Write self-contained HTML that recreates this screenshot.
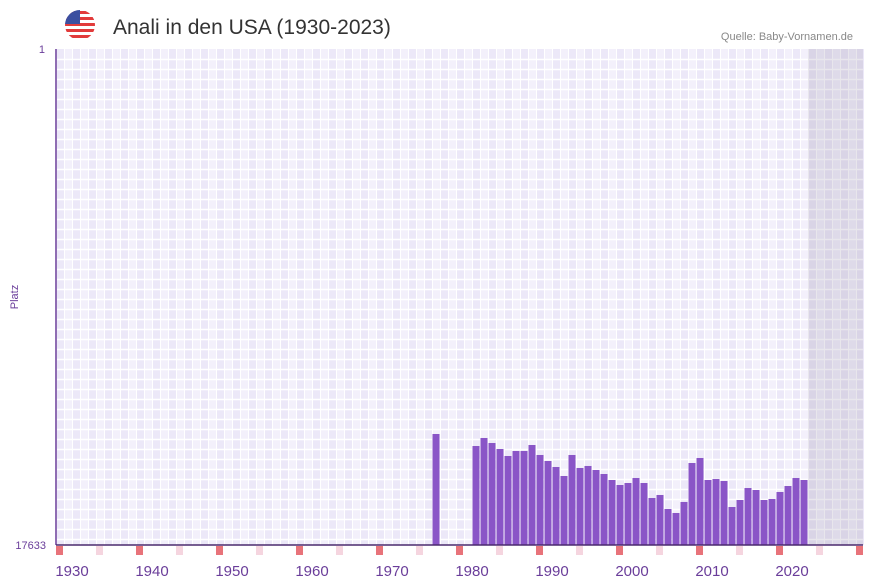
<!DOCTYPE html>
<html><head><meta charset="utf-8"><style>
body{margin:0;background:#fff;font-family:"Liberation Sans",sans-serif;}
#wrap{position:relative;width:873px;height:587px;overflow:hidden;}
</style></head><body>
<div id="wrap">
<svg id="svg" width="873" height="587" xmlns="http://www.w3.org/2000/svg">
  <defs><clipPath id="fc"><circle cx="80" cy="25" r="15"/></clipPath></defs>
  <g clip-path="url(#fc)">
    <rect x="65" y="10" width="30" height="30" fill="#fff"/>
    <rect x="65" y="11" width="30" height="3" fill="#e23b3b"/>
    <rect x="65" y="17" width="30" height="3" fill="#e23b3b"/>
    <rect x="65" y="23" width="30" height="3" fill="#e23b3b"/>
    <rect x="65" y="29" width="30" height="3" fill="#e23b3b"/>
    <rect x="65" y="35" width="30" height="3" fill="#e23b3b"/>
    <rect x="65" y="10" width="15" height="14" fill="#3b4fa0"/>
  </g>
  <text x="113" y="34" font-size="21" fill="#333">Anali in den USA (1930-2023)</text>
  <text x="853" y="40" font-size="11" fill="#888" text-anchor="end">Quelle: Baby-Vornamen.de</text>
  <g id="grid"></g>
  <g id="bars"></g>
  <g id="marks"></g>
  <g id="xt"></g>
  <line x1="56" y1="49" x2="56" y2="545" stroke="#6a3d9a" stroke-width="1.5"/>
  <line x1="56" y1="545" x2="863" y2="545" stroke="#4b2a6e" stroke-width="1.5"/>
  <text x="45" y="53" font-size="11" fill="#6a3d9a" text-anchor="end">1</text>
  <text x="46" y="549" font-size="11" fill="#6a3d9a" text-anchor="end">17633</text>
  <text x="18" y="297" font-size="11" fill="#6a3d9a" text-anchor="middle" transform="rotate(-90 18 297)">Platz</text>
</svg>
</div>
<script>
const years=[1975,1980,1981,1982,1983,1984,1985,1986,1987,1988,1989,1990,1991,1992,1993,1994,1995,1996,1997,1998,1999,2000,2001,2002,2003,2004,2005,2006,2007,2008,2009,2010,2011,2012,2013,2014,2015,2016,2017,2018,2019,2020,2021];
const ranks=[13687,14114,13829,14007,14220,14469,14291,14291,14078,14433,14647,14860,15180,14433,14895,14824,14966,15109,15322,15500,15429,15251,15429,15962,15855,16353,16495,16104,14718,14540,15322,15287,15358,16282,16033,15607,15678,16033,15997,15749,15536,15251,15322];
const xTicks=[1930,1940,1950,1960,1970,1980,1990,2000,2010,2020];
const maxRank=17633, firstYear=1928, lastDataYear=2021;
const NS='http://www.w3.org/2000/svg';
const X0=56,SW=8,Y0=49,Y1=545;
function xs(y){return X0+(y-firstYear)*SW;}
function ys(r){return Y0+(r-1)/(maxRank-1)*(Y1-Y0);}
function mk(t,a){const e=document.createElementNS(NS,t);for(const k in a)e.setAttribute(k,a[k]);return e;}
const grid=document.getElementById('grid');
grid.appendChild(mk('rect',{x:X0,y:Y0,width:807,height:Y1-Y0,fill:'#fff'}));
for(let i=0;i<101;i++){
  const x=X0+i*SW;
  const c=mk('rect',{x:x+1,y:Y0,width:7,height:Y1-Y0,fill:(i%2? '#f3f0fb':'#ece8f8')});
  
  
  grid.appendChild(c);
}
for(let y=Y0+10;y<Y1;y+=10){
  const l=mk('line',{x1:X0,x2:863,y1:y+0.5,y2:y+0.5,stroke:'#fff','stroke-width':1.5});
  
  
  grid.appendChild(l);
}
const fut=mk('rect',{x:xs(lastDataYear+1),y:Y0,width:863-xs(lastDataYear+1),height:Y1-Y0,fill:'rgba(150,140,170,0.22)'});


grid.appendChild(fut);
const bars=document.getElementById('bars');
years.forEach((yr,i)=>{
  const t=ys(ranks[i]);
  const b=mk('rect',{x:xs(yr)+0.5,y:t,width:7,height:Y1-t,fill:'#8a55c7'});
  
  
  bars.appendChild(b);
});
const marks=document.getElementById('marks');
for(let yr=firstYear;yr<=2028;yr+=5){
  const red=(yr-firstYear)%10===0;
  const m=mk('rect',{x:xs(yr),y:546,width:7,height:9,fill:red?'#e8737a':'#f5d5df'});
  
  
  marks.appendChild(m);
}
const xt=document.getElementById('xt');
xTicks.forEach(t=>{
  const e=mk('text',{x:xs(t),y:576,'font-size':15,fill:'#6a3d9a','text-anchor':'middle'});
  e.textContent=t;
  
  
  xt.appendChild(e);
});
</script>
</body></html>
